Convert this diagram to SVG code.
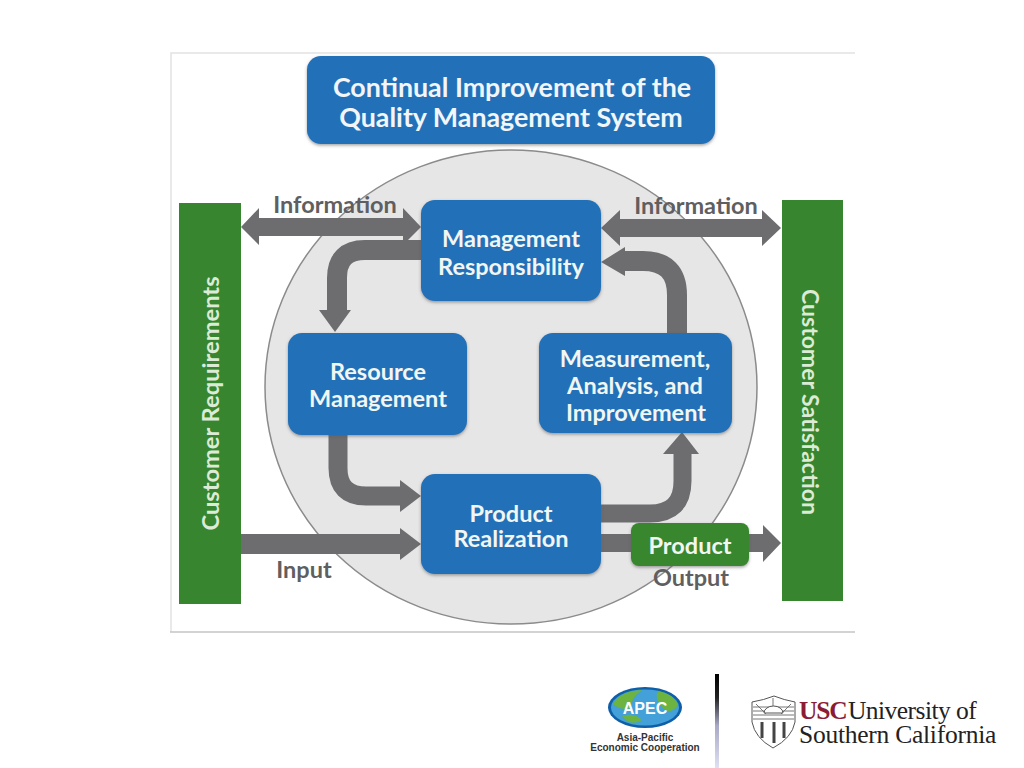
<svg xmlns="http://www.w3.org/2000/svg" width="1024" height="768" viewBox="0 0 1024 768">
<style>
.t{font-family:"Lato","Liberation Sans",sans-serif;font-weight:700;text-anchor:middle}
.w{fill:#f2f6f2;font-size:23.5px}
.g{fill:#5f5f61;font-size:23.5px}
.box{fill:#2071b8;filter:url(#sh)}
.bar{fill:#37862f}
.flow{fill:none;stroke:#6d6d70}
.head{fill:#6d6d70}
.blur{filter:url(#soft)}
.ser{font-family:"Liberation Serif",serif;font-size:25.5px;fill:#222}
</style>
<defs>
<filter id="sh" x="-10%" y="-10%" width="120%" height="125%"><feDropShadow dx="0" dy="1.5" stdDeviation="1.5" flood-color="#555" flood-opacity=".55"/></filter>
<filter id="soft"><feGaussianBlur stdDeviation=".5"/></filter>
<linearGradient id="div" x1="0" y1="0" x2="0" y2="1"><stop offset="0" stop-color="#000"/><stop offset=".25" stop-color="#222"/><stop offset=".55" stop-color="#a9a9c8"/><stop offset="1" stop-color="#dfe0f2"/></linearGradient>
</defs>
<rect width="1024" height="768" fill="#fff"/>
<g id="panel">
<path d="M171 632V53H855" fill="none" stroke="#e2e2e2" stroke-width="1.5"/>
<path d="M170 632H855" stroke="#c4c4c4" stroke-width="1.5"/>
</g>
<g id="disc-bg"><ellipse cx="511" cy="387" rx="246" ry="237" fill="#e7e6e7" stroke="#8b8b8b" stroke-width="1.5"/></g>
<g id="connectors" class="blur">
<g id="info-left"><path class="head" d="M241 227L259 208V218H403V208L421 227L403 245V236H259V245Z"/></g>
<g id="info-right"><path class="head" d="M601 228L620 210V219H762V210L781 228L762 246V237H620V246Z"/></g>
<g id="mgmt-resource"><path class="flow" stroke-width="20" d="M425 250H365Q337 250 337 278V312"/><path class="head" d="M319 310H351L335 332Z"/></g>
<g id="resource-product"><path class="flow" stroke-width="19" d="M338 430V468Q338 496 366 496H402"/><path class="head" d="M400 480L421 496L400 512Z"/></g>
<g id="product-measure"><path class="flow" stroke-width="18" d="M597 513.500H650Q682.500 513.500 682.500 481V450"/><path class="head" d="M663 454L682 432L699 454Z"/></g>
<g id="measure-mgmt"><path class="flow" stroke-width="20" d="M677 337V295Q677 261 643 261H622"/><path class="head" d="M625 247V276L601 262Z"/></g>
<g id="input"><path class="head" d="M241 534H400V528L421 544L400 560V554H241Z"/></g>
<g id="output"><path class="head" d="M597 534H763V525L781 543L763 562V552H597Z"/></g>
</g>
<g id="title"><rect class="box" x="307" y="56" width="408" height="88" rx="14"/><text class="t" x="512" y="97" style="font-size:26.800px;fill:#f2f6f8">Continual Improvement of the</text><text class="t" x="511" y="127" style="font-size:26.800px;fill:#f2f6f8">Quality Management System</text></g>
<g id="customer-requirements"><rect class="bar" x="179" y="203" width="62" height="401"/><text class="t" transform="translate(219 403.500) rotate(-90)" style="font-size:23.7px;fill:#dcebd6">Customer Requirements</text></g>
<g id="customer-satisfaction"><rect class="bar" x="782" y="200" width="61" height="401"/><text class="t" transform="translate(802 402) rotate(90)" style="font-size:23px;fill:#dcebd6">Customer Satisfaction</text></g>
<g id="management-responsibility"><rect class="box" x="421" y="200" width="180" height="101" rx="14"/><text class="t w" x="511" y="247">Management</text><text class="t w" x="511" y="275">Responsibility</text></g>
<g id="resource-management"><rect class="box" x="288" y="333" width="179" height="102" rx="14"/><text class="t w" x="378" y="380">Resource</text><text class="t w" x="378" y="407">Management</text></g>
<g id="measurement"><rect class="box" x="539" y="333" width="193" height="100" rx="14"/><text class="t w" x="635" y="367">Measurement,</text><text class="t w" x="635" y="394">Analysis, and</text><text class="t w" x="636" y="421">Improvement</text></g>
<g id="product-realization"><rect class="box" x="421" y="474" width="180" height="100" rx="14"/><text class="t w" x="511" y="522">Product</text><text class="t w" x="511" y="547">Realization</text></g>
<g id="product"><rect x="631" y="523" width="118" height="43" rx="8" class="bar" filter="url(#sh)"/><text class="t w" x="690" y="554">Product</text></g>
<g id="labels">
<text class="t g" x="335" y="213">Information</text>
<text class="t g" x="696" y="214">Information</text>
<text class="t g" x="304" y="578">Input</text>
<text class="t g" x="691" y="586">Output</text>
</g>
<g id="divider"><rect x="715" y="674" width="4" height="94" fill="url(#div)"/></g>
<g id="apec-logo">
<ellipse cx="645" cy="707.500" rx="37" ry="20.500" fill="#0f5fa8"/>
<ellipse cx="645" cy="707.500" rx="34" ry="18" fill="#43a0d8"/>
<path d="M613 704Q620 691 642 690Q630 698 632 707Q622 712 613 704ZM658 691Q674 694 678 705Q670 716 662 707Q654 698 658 691ZM622 716Q634 712 642 720Q634 725 627 721Z" fill="#6cb33f"/>
<text x="645" y="713.500" text-anchor="middle" style="font-family:'Liberation Sans',sans-serif;font-weight:700;font-size:16px;fill:#fff">APEC</text>
<text x="645" y="741" text-anchor="middle" style="font-family:'Liberation Sans',sans-serif;font-weight:700;font-size:10px;fill:#333">Asia-Pacific</text>
<text x="645" y="751" text-anchor="middle" style="font-family:'Liberation Sans',sans-serif;font-weight:700;font-size:10px;fill:#333">Economic Cooperation</text>
</g>
<g id="usc-logo">
<path d="M752 702Q764 700 774 696Q784 700 795 702V722Q792 738 773 748Q755 738 752 722Z" fill="#fff" stroke="#555" stroke-width="1"/>
<path d="M753 707H794M753 711H794M753 715H794M753 719H794M756 704L766 714M791 704L781 714M773 698V712" stroke="#666" stroke-width=".9" fill="none"/>
<path d="M764 713A9.500 7 0 0 1 783 713Z" fill="#fff" stroke="#555"/>
<path d="M762 722V738M774 722V743M784 722V738" stroke="#444" stroke-width="3"/>
<text class="ser" x="799" y="719" style="fill:#8c1c36;font-weight:700;letter-spacing:-1.2px">USC</text>
<text class="ser" x="848" y="719" style="letter-spacing:-.55px">University of</text>
<text class="ser" x="799" y="743" style="letter-spacing:-.25px">Southern California</text>
</g>
</svg>
